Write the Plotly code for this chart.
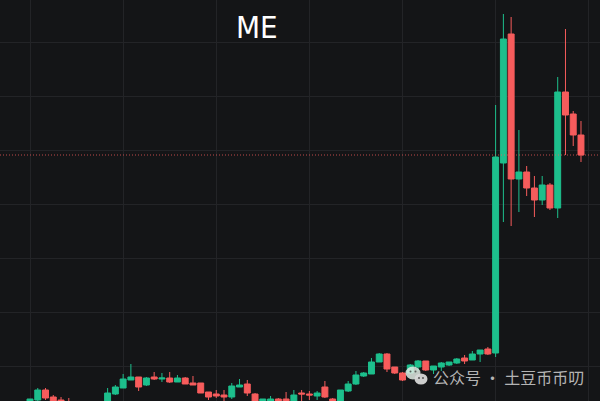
import plotly.graph_objects as go

# Prices in arbitrary units, oldest candle first
open_ = [0.99,1.01,1.11,1.04,1.01,0.98,0.93,0.88,0.91,0.87,0.96,1.07,1.13,1.21,1.24,1.16,1.24,1.22,
         1.23,1.19,1.23,1.18,1.18,1.09,1.07,1.06,1.04,1.14,1.17,1.07,0.97,1.00,1.02,1.02,0.97,1.08,
         1.07,1.05,1.14,1.02,0.97,1.10,1.17,1.25,1.27,1.39,1.47,1.34,1.28,1.28,1.34,1.40,1.31,1.34,
         1.36,1.38,1.43,1.41,1.47,1.52,1.48,3.38,4.67,3.22,3.29,3.13,3.01,3.16,2.93,4.09,3.87,3.66]
high = [1.02,1.13,1.13,1.06,1.04,1.03,0.96,0.93,0.94,0.99,1.13,1.16,1.27,1.37,1.24,1.24,1.29,1.28,
        1.29,1.26,1.24,1.25,1.18,1.09,1.11,1.11,1.18,1.22,1.21,1.08,1.02,1.05,1.03,1.09,1.11,1.11,
        1.10,1.10,1.20,1.03,1.11,1.20,1.30,1.29,1.43,1.48,1.48,1.34,1.29,1.37,1.41,1.40,1.35,1.39,
        1.39,1.43,1.46,1.50,1.51,1.54,3.96,4.87,4.84,3.71,3.35,3.25,3.25,3.18,4.24,4.72,3.90,3.80]
low = [0.97,1.00,1.01,0.96,0.95,0.92,0.86,0.85,0.85,0.85,0.94,1.06,1.13,1.21,1.10,1.15,1.21,1.19,
       1.18,1.19,1.17,1.16,1.08,1.01,1.03,1.00,1.02,1.14,1.05,0.96,0.96,0.98,0.98,0.97,0.96,1.00,
       1.01,1.01,1.03,0.96,0.96,1.09,1.16,1.24,1.27,1.39,1.29,1.27,1.20,1.27,1.30,1.30,1.27,1.30,
       1.35,1.37,1.37,1.41,1.39,1.46,1.44,2.79,2.75,2.89,3.05,2.84,2.96,2.91,2.83,3.46,3.55,3.39]
close = [1.02,1.11,1.03,0.98,0.97,0.93,0.88,0.91,0.87,0.96,1.08,1.14,1.22,1.24,1.14,1.23,1.22,1.23,
         1.19,1.23,1.17,1.16,1.08,1.04,1.05,1.04,1.15,1.16,1.08,0.97,1.02,1.02,1.00,0.98,1.06,1.07,
         1.06,1.08,1.04,0.98,1.11,1.17,1.26,1.28,1.39,1.47,1.32,1.28,1.21,1.36,1.40,1.31,1.35,1.38,
         1.39,1.42,1.40,1.47,1.51,1.47,3.44,4.62,3.22,3.29,3.13,3.01,3.16,2.93,4.09,3.86,3.66,3.46]
candles = list(range(len(close)))

title_text = "ME"
watermark_text = "公众号 · 土豆币币叨"

UP = "#1dbf8c"
DOWN = "#f75c5c"
BG = "#141517"
GRID = "#232427"

fig = go.Figure(go.Candlestick(
    x=candles, open=open_, high=high, low=low, close=close,
    increasing=dict(line=dict(color=UP, width=1), fillcolor=UP),
    decreasing=dict(line=dict(color=DOWN, width=1), fillcolor=DOWN),
    whiskerwidth=0, hoverinfo="skip",
))


def bubble(cx, cy, rx, ry, color):
    return dict(type="circle", xref="paper", yref="paper", layer="above",
                x0=(cx - rx) / 600, x1=(cx + rx) / 600,
                y0=1 - (cy + ry) / 401, y1=1 - (cy - ry) / 401,
                fillcolor=color, line=dict(width=0))


shapes = [
    dict(type="line", xref="paper", yref="y", x0=0, x1=1, y0=close[-1], y1=close[-1],
         line=dict(color="rgba(247,92,92,0.75)", width=1, dash="1px,2px"), layer="above"),
    bubble(413, 373, 7.5, 6.5, "rgba(225,235,228,0.85)"),
    bubble(410.5, 371.5, 1, 1, "#55605a"),
    bubble(415.5, 371.5, 1, 1, "#55605a"),
    bubble(421, 379, 6.5, 5.5, "rgba(215,215,215,0.95)"),
    bubble(419, 378, 0.9, 0.9, "#4a4a4a"),
    bubble(423, 378, 0.9, 0.9, "#4a4a4a"),
]

fig.update_layout(
    width=600, height=401, autosize=False,
    margin=dict(l=0, r=0, t=0, b=0),
    paper_bgcolor=BG, plot_bgcolor=BG,
    showlegend=False, boxgap=0.15, boxgroupgap=0.1, dragmode=False,
    shapes=shapes,
    xaxis=dict(range=[-3.866, 73.45], rangeslider=dict(visible=False), showticklabels=False,
               showgrid=True, gridcolor=GRID, gridwidth=1, tick0=0, dtick=12, zeroline=False,
               showline=False, ticks=""),
    yaxis=dict(range=[1.0, 5.01], showticklabels=False, showgrid=True, gridcolor=GRID, gridwidth=1,
               tick0=1.35, dtick=0.54, zeroline=False, showline=False, ticks=""),
    annotations=[
        dict(text=title_text, xref="paper", yref="paper", x=257 / 600, y=1 - 27 / 401,
             showarrow=False, xanchor="center", yanchor="middle",
             font=dict(family="DejaVu Sans Condensed, Lato, sans-serif", size=31, color="#ffffff")),
        dict(text=watermark_text, xref="paper", yref="paper", x=431 / 600, y=1 - 377 / 401,
             showarrow=False, xanchor="left", yanchor="middle",
             font=dict(family="Noto Sans CJK SC, sans-serif", size=16, color="#b4b4b4")),
    ],
)

fig.write_html("out.html", config=dict(displayModeBar=False),
               post_script="document.body.style.margin='0';document.body.style.background='#141517';"
                           "document.documentElement.style.overflow='hidden';")
